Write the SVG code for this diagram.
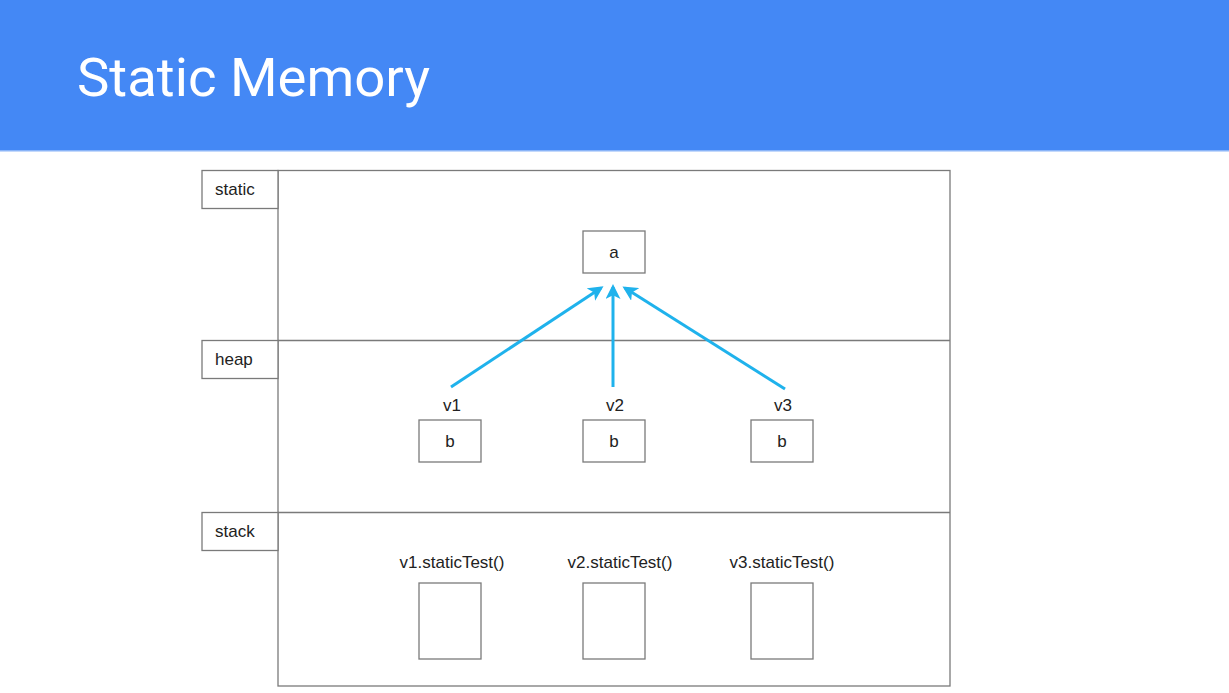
<svg xmlns="http://www.w3.org/2000/svg" width="1229" height="693" viewBox="0 0 1229 693">
<style>
.box{fill:#fff;stroke:#7a7a7a;stroke-width:1.3}
.t{font-family:"Liberation Sans",Arial,sans-serif;font-size:17px;fill:#222}
.c{text-anchor:middle}
.arr{stroke:#1fb2ec;stroke-width:3;fill:none;marker-end:url(#ah)}
</style>
<defs>
<marker id="ah" viewBox="0 0 10 10" refX="8" refY="5" markerWidth="5" markerHeight="5" orient="auto" markerUnits="strokeWidth">
<path d="M0,0 L10,5 L0,10 L2.5,5 z" fill="#1fb2ec"/>
</marker>
</defs>
<rect x="0" y="0" width="1229" height="693" fill="#fff"/>
<g id="header">
<rect x="0" y="0" width="1229" height="150" fill="#4488f5"/>
<rect x="0" y="150" width="1229" height="1.5" fill="#8ab4f8"/>
<text x="77" y="96" font-family="Roboto,'Liberation Sans',sans-serif" font-size="54.5" fill="#fff">Static Memory</text>
</g>
<g id="memory">
<rect class="box" x="278" y="170.5" width="672" height="515.5"/>
<line x1="278" y1="340.5" x2="950" y2="340.5" stroke="#7a7a7a" stroke-width="1.3"/>
<line x1="278" y1="512.5" x2="950" y2="512.5" stroke="#7a7a7a" stroke-width="1.3"/>
</g>
<g id="label-static"><rect class="box" x="202" y="170.5" width="76" height="38"/><text class="t" x="215" y="195">static</text></g>
<g id="label-heap"><rect class="box" x="202" y="340.5" width="76" height="38"/><text class="t" x="215" y="365">heap</text></g>
<g id="label-stack"><rect class="box" x="202" y="512.5" width="76" height="38"/><text class="t" x="215" y="537">stack</text></g>
<g id="node-a"><rect class="box" x="583" y="231" width="62" height="42"/><text class="t c" x="614" y="258">a</text></g>
<g id="node-b1"><rect class="box" x="419" y="420" width="62" height="42"/><text class="t c" x="450" y="447">b</text><text class="t c" x="452" y="411">v1</text></g>
<g id="node-b2"><rect class="box" x="583" y="420" width="62" height="42"/><text class="t c" x="614" y="447">b</text><text class="t c" x="615" y="411">v2</text></g>
<g id="node-b3"><rect class="box" x="751" y="420" width="62" height="42"/><text class="t c" x="782" y="447">b</text><text class="t c" x="783" y="411">v3</text></g>
<g id="frame1"><rect class="box" x="419" y="583" width="62" height="76"/><text class="t c" x="452" y="568">v1.staticTest()</text></g>
<g id="frame2"><rect class="box" x="583" y="583" width="62" height="76"/><text class="t c" x="620" y="568">v2.staticTest()</text></g>
<g id="frame3"><rect class="box" x="751" y="583" width="62" height="76"/><text class="t c" x="782" y="568">v3.staticTest()</text></g>
<g id="connectors">
<line class="arr" x1="451" y1="387" x2="601" y2="288"/>
<line class="arr" x1="613" y1="387" x2="613" y2="287"/>
<line class="arr" x1="785" y1="389" x2="625" y2="288"/>
</g>
</svg>
